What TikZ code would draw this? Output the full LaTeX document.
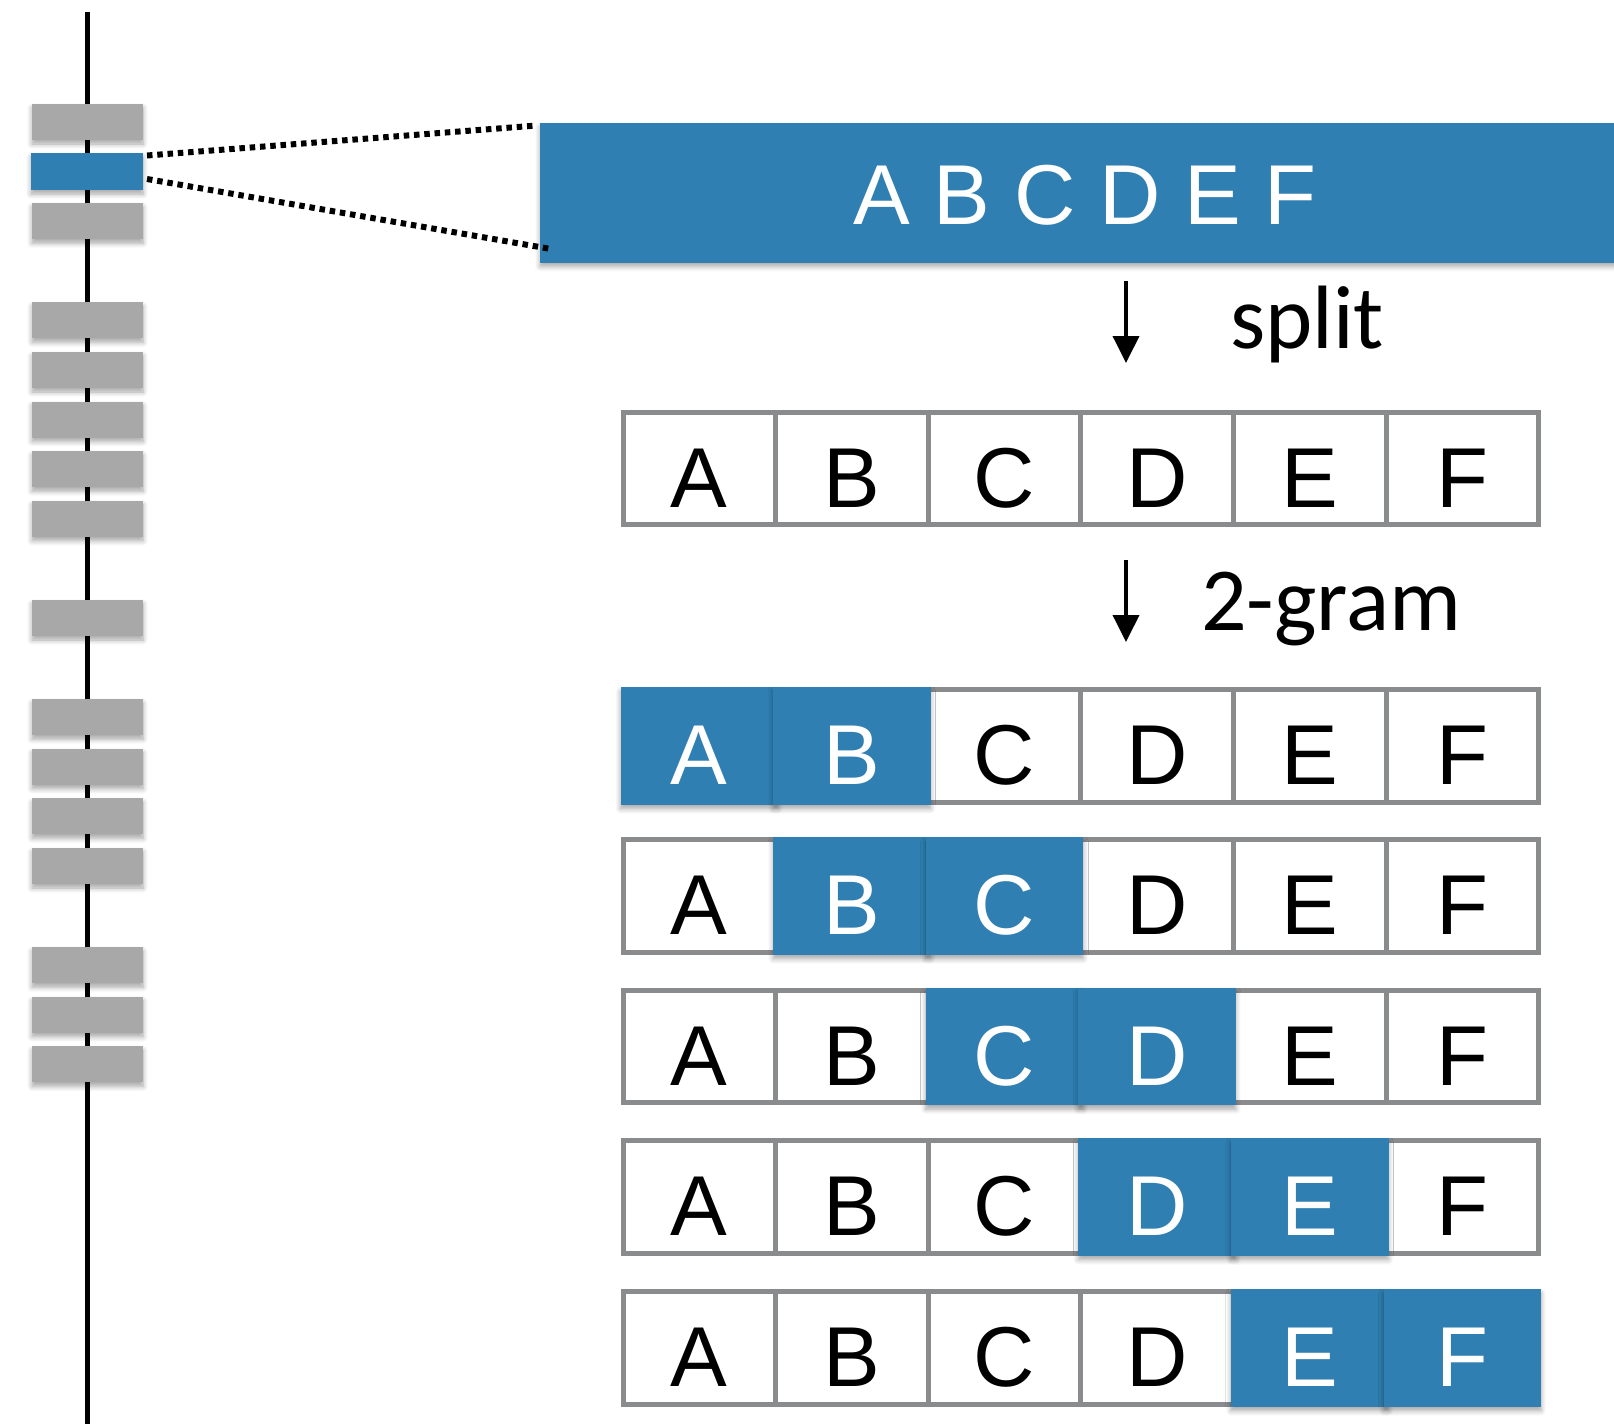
\documentclass[tikz,border=0pt]{standalone}
\usepackage{fontspec}
\setmainfont{Liberation Sans}
\newfontfamily\calib{Carlito}
\usetikzlibrary{arrows.meta,shadows.blur}
\definecolor{pblue}{RGB}{47,127,178}
\definecolor{pgrey}{RGB}{167,168,167}
\definecolor{cellgrey}{RGB}{137,139,141}
\begin{document}
\begin{tikzpicture}[x=1pt,y=-1pt,
  shad/.style={blur shadow={shadow xshift=0pt,shadow yshift=-4pt,shadow blur radius=5pt,shadow blur steps=6,shadow opacity=35}},
  chrom/.style={rectangle,fill=pgrey,minimum width=111pt,minimum height=36pt,inner sep=0pt,shad},
  cell/.style={rectangle,draw=cellgrey,line width=5pt,fill=white,minimum width=152.6pt,minimum height=112.5pt,
    inner sep=0pt,text height=77pt,text depth=0pt,font=\fontsize{85}{100}\selectfont},
  hcell/.style={rectangle,fill=pblue,minimum width=157.6pt,minimum height=117.5pt,inner sep=0pt,
    text height=77pt,text depth=0pt,text=white,font=\fontsize{85}{100}\selectfont,shad},
  bigbox/.style={rectangle,fill=pblue,minimum width=1090pt,minimum height=139.5pt,inner sep=0pt,
    text height=62.5pt,text depth=0pt,text=white,font=\fontsize{85}{100}\selectfont,shad},
  lbl/.style={inner sep=0pt,anchor=base west,font=\calib\fontsize{90}{100}\selectfont},
  arr/.style={line width=3.8pt,-{Triangle[length=27pt,width=26pt]}},
  dotline/.style={line width=6pt,dash pattern=on 5.5pt off 4.8pt},
  axis/.style={line width=5pt}
]
\useasboundingbox (0,0) rectangle (1614,1424);
% chromosome axis
\coordinate (top) at (87.5,12);
\coordinate (bot) at (87.5,1424);
\draw[axis] (top) -- (bot);
% grey segments
\foreach \k in {0,2,4,5,6,7,8,10,12,13,14,15,17,18,19} {
  \node[chrom] (g\k) at (87.5,{122+49.6*\k}) {};
}
\node[chrom,fill=pblue,minimum width=112pt,minimum height=37pt] (sel) at (87,171.6) {};
% big box
\node[bigbox] (big) at (1085,192.75) {A B C D E F};
% zoom lines
\coordinate (d1) at (147,155.5);
\coordinate (d2) at (537,125.5);
\coordinate (d3) at (147,179);
\coordinate (d4) at (551,249);
\draw[dotline] (d1) -- (d2);
\draw[dotline] (d3) -- (d4);
% arrows and labels
\coordinate (s1) at (1126,281);
\coordinate (s2) at (1126,363);
\draw[arr] (s1) -- (s2);
\node[lbl] (split) at (1230,348) {split};
\coordinate (t1) at (1126,560);
\coordinate (t2) at (1126,642);
\draw[arr] (t1) -- (t2);
\node[lbl] (gram) at (1201,630) {2-gram};
% cells
\foreach \r/\yc in {1/468.5,2/746,3/896,4/1046.5,5/1197,6/1348} {
  \foreach \c/\L/\xc in {1/A/699.3,2/B/851.9,3/C/1004.5,4/D/1157.1,5/E/1309.7,6/F/1462.3} {
    \node[cell] (r\r c\c) at (\xc,\yc) {\L};
  }
}
% highlighted 2-grams
\foreach \r/\c/\L in {2/1/A,2/2/B,3/2/B,3/3/C,4/3/C,4/4/D,5/4/D,5/5/E,6/5/E,6/6/F} {
  \node[hcell] (h\r c\c) at (r\r c\c.center) {\L};
}
\end{tikzpicture}
\end{document}
